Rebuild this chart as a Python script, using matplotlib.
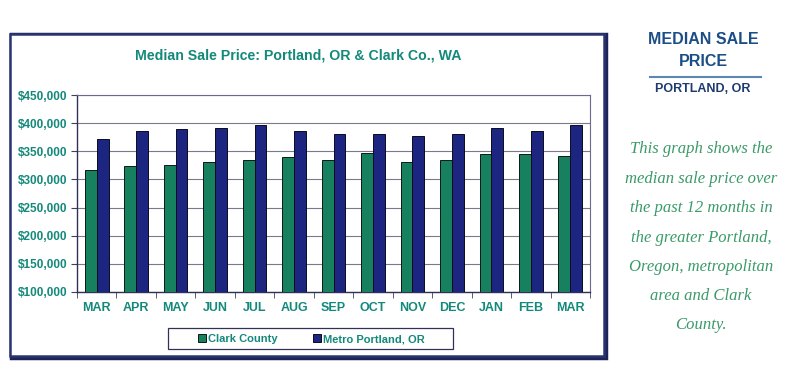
import matplotlib
matplotlib.use("Agg")
import matplotlib.pyplot as plt
import numpy as np
from matplotlib.patches import Rectangle
from matplotlib.ticker import FuncFormatter, FixedLocator

months = ["MAR", "APR", "MAY", "JUN", "JUL", "AUG", "SEP", "OCT", "NOV", "DEC", "JAN", "FEB", "MAR"]
clark = [316000, 324000, 325000, 331000, 335000, 340000, 335000, 347000, 331000, 334000, 345000, 345000, 342000]
metro = [371000, 386000, 389000, 391000, 396000, 386000, 381000, 381000, 378000, 381000, 391000, 386000, 396000]
series_names = ["Clark County", "Metro Portland, OR"]
y_ticks = [100000, 150000, 200000, 250000, 300000, 350000, 400000, 450000]

plt.rcParams["font.family"] = ["Liberation Sans", "DejaVu Sans"]

GREEN = "#17805e"
NAVY = "#1c2680"
TEAL = "#13897a"
FRAME = "#1b2358"

W, H = 785, 376
fig = plt.figure(figsize=(W / 100, H / 100), dpi=100)
fig.patch.set_facecolor("white")

def fx(px):
    return px / W

def fy(py):
    return 1 - py / H

# outer frame (with shadow on right/bottom)
fig.add_artist(Rectangle((fx(12), fy(358)), fx(594), fy(35) - fy(358), transform=fig.transFigure,
                         fill=False, edgecolor=FRAME, lw=3.2, zorder=0))
fig.add_artist(Rectangle((fx(10), fy(356)), fx(594), fy(34) - fy(356), transform=fig.transFigure,
                         facecolor="white", edgecolor="#2a3570", lw=1.8, zorder=0.5))

ax = fig.add_axes([fx(77), fy(292), fx(590 - 77), fy(95) - fy(292)])
ax.set_zorder(3)
x = np.arange(len(months))
w = 0.3
ax.bar(x - w / 2, clark, width=w, color=GREEN, edgecolor="#0a1a14", lw=0.7, label=series_names[0], zorder=3)
ax.bar(x + w / 2, metro, width=w, color=NAVY, edgecolor="#0a0a20", lw=0.7, label=series_names[1], zorder=3)

ax.set_xlim(-0.5, len(months) - 0.5)
ax.set_ylim(100000, 450000)
ax.yaxis.set_major_locator(FixedLocator(y_ticks))
ax.yaxis.set_major_formatter(FuncFormatter(lambda v, p: "${:,.0f}".format(v)))
ax.grid(axis="y", color="#7a7a8a", lw=0.8, zorder=1)
ax.set_xticks(x)
ax.set_xticklabels(months)
ax.set_xticks(np.arange(-0.5, len(months), 1), minor=True)
ax.tick_params(axis="x", which="major", length=0, pad=7, labelsize=9, labelcolor=TEAL)
ax.tick_params(axis="x", which="minor", length=4, direction="out", color="#404060")
ax.tick_params(axis="y", length=4, direction="out", color="#404060", pad=3, labelsize=8.5, labelcolor=TEAL)
for lab in ax.get_xticklabels() + ax.get_yticklabels():
    lab.set_fontweight("bold")
for s in ["left", "bottom"]:
    ax.spines[s].set_color("#303058")
    ax.spines[s].set_linewidth(1.0)
for s in ["top", "right"]:
    ax.spines[s].set_color("#6a6a90")
    ax.spines[s].set_linewidth(0.8)

fig.text(fx(298), fy(56), "Median Sale Price: Portland, OR & Clark Co., WA", ha="center", va="center",
         fontsize=10.2, fontweight="bold", color=TEAL)

# legend box
fig.add_artist(Rectangle((fx(168), fy(349)), fx(453 - 168), fy(328) - fy(349), transform=fig.transFigure,
                         fill=False, edgecolor="#303058", lw=0.9, zorder=4))
h, l = ax.get_legend_handles_labels()
leg = fig.legend(h, l, loc="center", bbox_to_anchor=(fx(311), fy(339)),
                 ncol=2, frameon=False, handlelength=0.75, handleheight=0.75,
                 handletextpad=0.15, borderaxespad=0, fontsize=8, columnspacing=3.2)
for t in leg.get_texts():
    t.set_color(TEAL)
    t.set_fontweight("bold")

# right panel
BLUE = "#1b4d86"
fig.text(fx(703), fy(40), "MEDIAN SALE", ha="center", va="center", fontsize=11.5, fontweight="bold", color=BLUE)
fig.text(fx(703), fy(61), "PRICE", ha="center", va="center", fontsize=11.5, fontweight="bold", color=BLUE)
fig.add_artist(plt.Line2D([fx(650), fx(761)], [fy(77), fy(77)], color="#5d86b0", lw=1.5, transform=fig.transFigure))
fig.text(fx(703), fy(89), "PORTLAND, OR", ha="center", va="center", fontsize=9, fontweight="bold", color="#1d3b70")

lines = ["This graph shows the", "median sale price over", "the past 12 months in",
         "the greater Portland,", "Oregon, metropolitan", "area and Clark", "County."]
ys = [149, 179, 208, 238, 267, 296, 325]
for s, yy in zip(lines, ys):
    fig.text(fx(701), fy(yy), s, ha="center", va="center", fontsize=12, style="italic",
             family="Liberation Serif", color="#3a9a68")

fig.savefig("out.png", dpi=100)
